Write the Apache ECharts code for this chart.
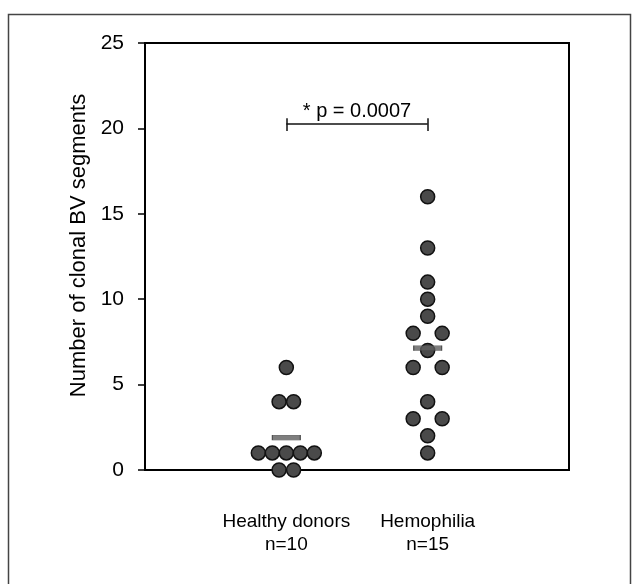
<!DOCTYPE html>
<html>
<head>
<meta charset="utf-8">
<script src="https://cdn.jsdelivr.net/npm/echarts@6/dist/echarts.min.js"></script>
<style>html,body{margin:0;padding:0;background:#fff;}#c{width:639px;height:584px;}</style>
</head>
<body>
<div id="c"></div>
<script>
// ---- data ----
const categories = ['Healthy donors', 'Hemophilia'];
const healthyDonors = [6, 4, 4, 1, 1, 1, 1, 1, 0, 0];
const hemophilia = [16, 13, 11, 10, 9, 8, 8, 7, 6, 6, 4, 3, 3, 2, 1];
const yAxisTitle = 'Number of clonal BV segments';
const pValueLabel = '* p = 0.0007';
const bracketLevel = 20.25;
const yMin = 0, yMax = 25, yInterval = 5;

// ---- styling (not data) ----
const FONT = '"Liberation Sans", Arial, sans-serif';
const groups = [healthyDonors, hemophilia];
const dotSpacing = [14.5, 29]; // horizontal spacing between tied points, per group (px)
const axisCats = [''].concat(categories).concat(['']);

function swarm(values, catIdx, spacing) {
  const counts = {};
  values.forEach(v => { counts[v] = (counts[v] || 0) + 1; });
  const seen = {};
  return values.map(v => {
    const k = counts[v];
    const i = seen[v] || 0; seen[v] = i + 1;
    const sp = k > 2 ? 14 : spacing;
    return { value: [catIdx, v], symbolOffset: [(i - (k - 1) / 2) * sp, 0] };
  });
}
const mean = a => a.reduce((s, x) => s + x, 0) / a.length;

const dotData = [];
groups.forEach((g, gi) => { swarm(g, gi + 1, dotSpacing[gi]).forEach(d => dotData.push(d)); });
const meanData = groups.map((g, gi) => [gi + 1, mean(g)]);

const chart = echarts.init(document.getElementById('c'), null, { renderer: 'canvas' });
chart.setOption({
  backgroundColor: '#fff',
  animation: false,
  graphic: [{
    type: 'rect', silent: true, z: -1,
    shape: { x: 8.5, y: 14.5, width: 622, height: 610 },
    style: { fill: 'none', stroke: '#444', lineWidth: 1.5 }
  }],
  grid: { left: 145, right: 70, top: 43, bottom: 114, show: true, borderColor: '#000', borderWidth: 2, backgroundColor: 'transparent' },
  xAxis: {
    type: 'category', data: axisCats, boundaryGap: false,
    axisLine: { lineStyle: { color: '#000', width: 2 } },
    axisTick: { show: false },
    axisLabel: {
      interval: 0, margin: 40, fontFamily: FONT, fontSize: 19, lineHeight: 23, color: '#000',
      formatter: (v, i) => v ? v + '\nn=' + groups[i - 1].length : ''
    },
    splitLine: { show: false }
  },
  yAxis: {
    type: 'value', min: yMin, max: yMax, interval: yInterval,
    name: yAxisTitle, nameLocation: 'middle', nameGap: 48, nameRotate: 90,
    nameTextStyle: { fontFamily: FONT, fontSize: 22, color: '#000', padding: [0, 0, 0, 22] },
    axisLine: { show: true, lineStyle: { color: '#000', width: 2 } },
    axisTick: { show: true, inside: false, length: 7, lineStyle: { color: '#000', width: 1.5 } },
    axisLabel: { margin: 21, fontFamily: FONT, fontSize: 21, color: '#000' },
    splitLine: { show: false }
  },
  series: [
    {
      type: 'scatter', name: 'points', data: dotData,
      symbol: 'circle', symbolSize: 14,
      itemStyle: { color: '#4a4a4a', borderColor: '#111', borderWidth: 1.5, opacity: 1 },
      z: 2,
      markLine: {
        silent: true, symbol: 'none', animation: false,
        lineStyle: { color: '#111', width: 1.5, type: 'solid' },
        label: { show: false },
        data: [
          [{ coord: [1, bracketLevel],
             label: { show: true, position: 'insideMiddleTop', distance: 3, formatter: pValueLabel,
                      fontFamily: FONT, fontSize: 20, color: '#000' } },
           { coord: [2, bracketLevel] }],
          [{ coord: [1, bracketLevel - 0.4] }, { coord: [1, bracketLevel + 0.35] }],
          [{ coord: [2, bracketLevel - 0.4] }, { coord: [2, bracketLevel + 0.35] }]
        ]
      }
    },
    {
      type: 'scatter', name: 'mean', data: meanData,
      symbol: 'rect', symbolSize: [28, 5],
      itemStyle: { color: '#5e5e5e', borderColor: '#333', borderWidth: 0.5 },
      z: 3
    }
  ]
});
</script>
</body>
</html>
